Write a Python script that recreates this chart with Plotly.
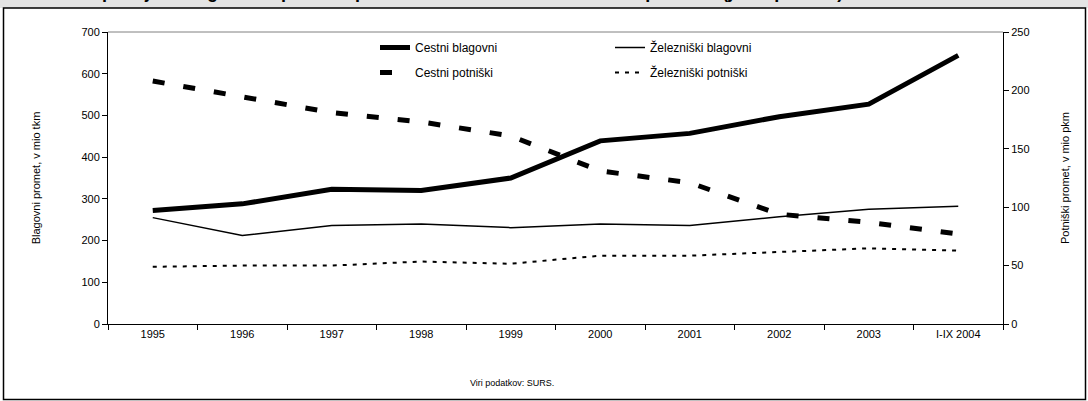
import plotly.graph_objects as go

# ---- data ----
years = ["1995", "1996", "1997", "1998", "1999", "2000", "2001", "2002", "2003", "I-IX 2004"]
cestni_blagovni = [272, 288, 323, 320, 350, 439, 457, 497, 527, 644]          # mio tkm (left)
zelezniski_blagovni = [255, 212, 236, 240, 231, 240, 236, 257, 275, 282]      # mio tkm (left)
cestni_potniski = [208, 195, 181, 173, 161, 131, 121, 94, 87, 77]              # mio pkm (right)
zelezniski_potniski = [49, 50, 50, 53.5, 51.6, 58.5, 58.5, 61.4, 64.8, 62.8]   # mio pkm (right)

left_ticks = [0, 100, 200, 300, 400, 500, 600, 700]
right_ticks = [0, 50, 100, 150, 200, 250]

W, H = 1088, 401
L, R, T, B = 108, 85, 32, 77
PW, PH = W - L - R, H - T - B

def px(x):
    return (x - L) / PW

def py(y):
    return (H - B - y) / PH

FONT = "Liberation Sans, Arial, sans-serif"

fig = go.Figure()
fig.add_trace(go.Scatter(x=years, y=cestni_blagovni, name="Cestni blagovni", mode="lines",
                         line=dict(color="black", width=5), yaxis="y", legend="legend",
                         legendgroup="a"))
fig.add_trace(go.Scatter(x=years, y=cestni_potniski, name="Cestni potniški", mode="lines",
                         line=dict(color="black", width=5, dash="12px,19px"), yaxis="y2",
                         legend="legend", legendgroup="b"))
fig.add_trace(go.Scatter(x=years, y=zelezniski_blagovni, name="Železniški blagovni", mode="lines",
                         line=dict(color="black", width=1.5), yaxis="y", legend="legend2",
                         legendgroup="c"))
fig.add_trace(go.Scatter(x=years, y=zelezniski_potniski, name="Železniški potniški", mode="lines",
                         line=dict(color="black", width=2, dash="4px,6px"), yaxis="y2",
                         legend="legend2", legendgroup="d"))

legend_common = dict(font=dict(family=FONT, size=12, color="black"), bgcolor="rgba(0,0,0,0)",
                     traceorder="grouped", tracegroupgap=6, xanchor="left", yanchor="top",
                     itemwidth=30)

fig.update_layout(
    width=W, height=H,
    margin=dict(l=L, r=R, t=T, b=B),
    paper_bgcolor="white", plot_bgcolor="white",
    font=dict(family=FONT, size=11, color="black"),
    xaxis=dict(type="category", showgrid=False, showline=True, linecolor="black", linewidth=1,
               ticks="outside", ticklen=5, tickcolor="black", tickson="boundaries",
               tickfont=dict(size=11), range=[-0.5, 9.5]),
    yaxis=dict(range=[0, 700], tickvals=left_ticks, showgrid=False, zeroline=False,
               showline=True, linecolor="black", linewidth=1, ticks="outside", ticklen=5,
               tickcolor="black", tickfont=dict(size=11),
               title=dict(text="Blagovni promet, v mio tkm", font=dict(size=11), standoff=38)),
    yaxis2=dict(range=[0, 250], tickvals=right_ticks, overlaying="y", side="right",
                showgrid=False, zeroline=False, showline=True, linecolor="black", linewidth=1,
                ticks="outside", ticklen=5, tickcolor="black", tickfont=dict(size=11),
                title=dict(text="Potniški promet, v mio pkm", font=dict(size=11), standoff=32)),
    legend=dict(x=px(375), y=py(33), **legend_common),
    legend2=dict(x=px(610), y=py(33), **legend_common),
    showlegend=True,
)

# plot-area top border
fig.add_shape(type="line", xref="paper", yref="paper", x0=0, x1=1, y0=1, y1=1,
              line=dict(color="#808080", width=1))
# title band and outer frame
fig.add_shape(type="rect", xref="paper", yref="paper", x0=px(-5), x1=px(1095), y0=py(8), y1=py(-5),
              fillcolor="#e4e4e4", line=dict(width=0), layer="below")
fig.add_shape(type="rect", xref="paper", yref="paper", x0=px(3.5), x1=px(1085.5), y0=py(399.5),
              y1=py(8), line=dict(color="black", width=1.5), fillcolor="rgba(0,0,0,0)")

fig.add_annotation(text="<b>Slika 12: Opravljeni blagovni in potniški promet v cestnem in železniškem prometu (javni prevozi)</b>",
                   xref="paper", yref="paper", x=px(8), y=py(4.5), xanchor="left", yanchor="bottom",
                   showarrow=False, font=dict(size=18, family=FONT, color="black"))
fig.add_annotation(text="Viri podatkov: SURS.", xref="paper", yref="paper", x=px(512), y=py(383),
                   xanchor="center", yanchor="middle", showarrow=False,
                   font=dict(size=9, family=FONT, color="black"))

fig.write_html("out.html", config={"displayModeBar": False},
               post_script="document.body.style.margin='0';document.body.style.overflow='hidden';")
